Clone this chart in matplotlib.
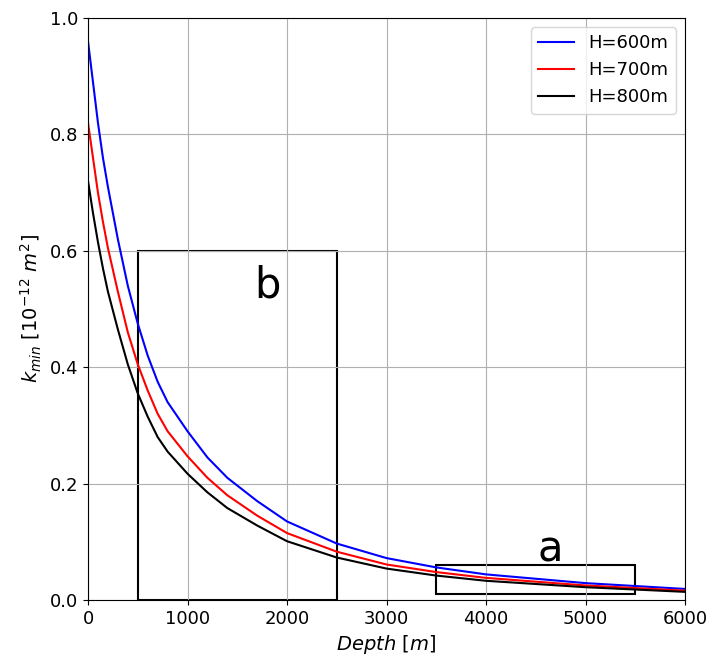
import matplotlib.pyplot as plt
from matplotlib.patches import Rectangle

depth = [0, 50, 100, 150, 200, 300, 400, 500, 600, 700, 800, 1000, 1200, 1400, 1700,
         2000, 2500, 3000, 3500, 4000, 5000, 6000]
k_600 = [0.96, 0.89, 0.82, 0.76, 0.71, 0.62, 0.54, 0.475, 0.42, 0.375, 0.34, 0.29, 0.245,
         0.21, 0.17, 0.135, 0.097, 0.072, 0.056, 0.044, 0.029, 0.019]
k_700 = [0.82, 0.76, 0.70, 0.65, 0.605, 0.53, 0.46, 0.405, 0.36, 0.32, 0.29, 0.247, 0.21,
         0.18, 0.145, 0.115, 0.083, 0.061, 0.048, 0.038, 0.025, 0.016]
k_800 = [0.72, 0.665, 0.615, 0.57, 0.53, 0.465, 0.405, 0.355, 0.315, 0.28, 0.255, 0.217, 0.185,
         0.158, 0.128, 0.101, 0.073, 0.054, 0.042, 0.033, 0.022, 0.014]

fig = plt.figure(figsize=(7.14, 6.62), dpi=100)
ax = fig.add_axes([88/714, 62/662, 597/714, 582/662])
ax.plot(depth, k_600, color='blue', label='H=600m')
ax.plot(depth, k_700, color='red', label='H=700m')
ax.plot(depth, k_800, color='black', label='H=800m')

ax.add_patch(Rectangle((500, 0), 2000, 0.6, fill=False, edgecolor='black', lw=1.5))
ax.add_patch(Rectangle((3500, 0.01), 2000, 0.05, fill=False, edgecolor='black', lw=1.5))
ax.text(1800, 0.54, 'b', fontsize=30, ha='center', va='center')
ax.text(4650, 0.087, 'a', fontsize=30, ha='center', va='center')

ax.set_xlim(0, 6000)
ax.set_ylim(0, 1.0)
ax.grid(True)
ax.tick_params(labelsize=13)
ax.set_xlabel('$Depth$ [$m$]', fontsize=14)
ax.set_ylabel('$k_{min}$ [$10^{-12}$ $m^2$]', fontsize=14)
ax.legend(fontsize=13, loc='upper right')
fig.savefig('out.png', dpi=100)
